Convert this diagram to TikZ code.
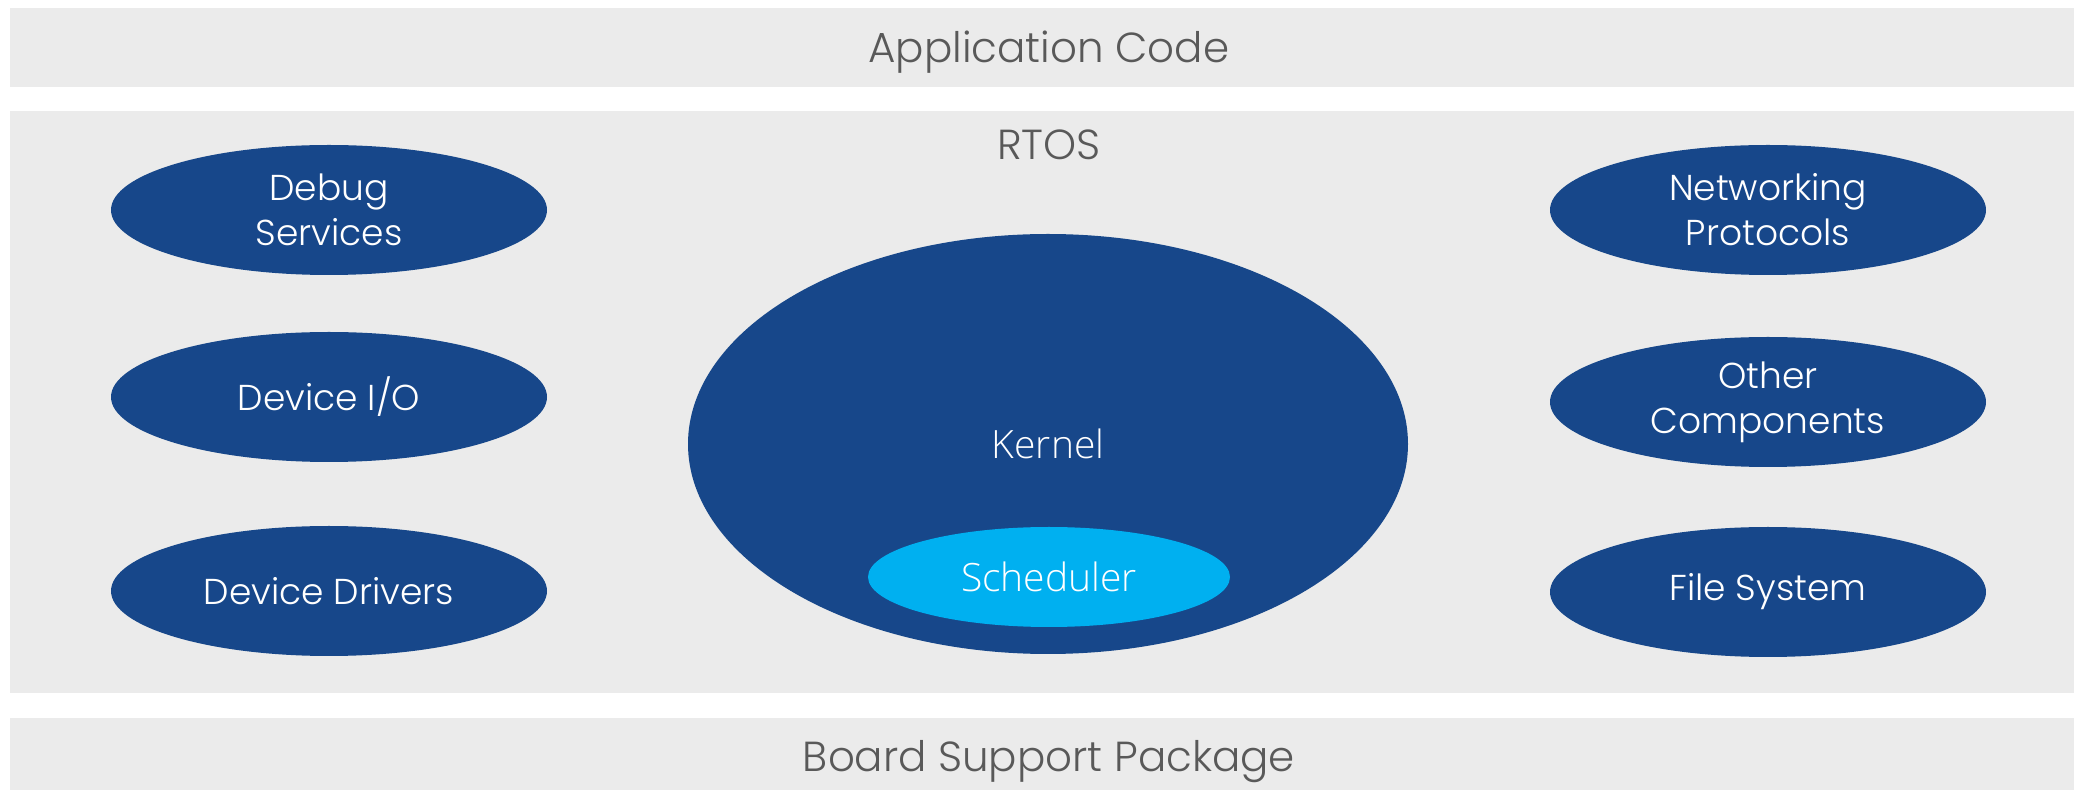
\documentclass[tikz,border=0pt]{standalone}
\usepackage{fontspec}
\setmainfont{Poppins}[UprightFont=* Light]
\newfontfamily\kernelfont{Open Sans}[UprightFont=* Light]
\usetikzlibrary{shapes.geometric}
\definecolor{bandgray}{HTML}{EBEBEB}
\definecolor{rtosblue}{HTML}{17478A}
\definecolor{schedblue}{HTML}{00B0F0}
\definecolor{labelgray}{HTML}{595959}

\begin{document}
\begin{tikzpicture}[x=0.5pt, y=-0.5pt,
    comp/.style={ellipse, fill=rtosblue, text=white, inner sep=0pt,
        minimum width=218pt, minimum height=65pt, align=center,
        font=\fontsize{18}{22.5}\selectfont},
    layerlabel/.style={text=labelgray, inner sep=0pt, font=\fontsize{21}{25}\selectfont}]
    \useasboundingbox (0,0) rectangle (2074,790);
    % Layers
    \fill[bandgray] (10,8) rectangle (2074,87);
    \fill[bandgray] (10,111) rectangle (2074,693);
    \fill[bandgray] (10,718) rectangle (2074,790);
    \node[layerlabel] (app) at (1049,52) {Application Code};
    \node[layerlabel] (rtos) at (1049,145) {RTOS};
    \node[layerlabel] (bsp) at (1049,762) {Board Support Package};
    % Kernel with scheduler
    \node[ellipse, fill=rtosblue, minimum width=360pt, minimum height=210pt] (kernel) at (1048,444) {};
    \node[text=white, font=\kernelfont\fontsize{19.5}{23}\selectfont] (kernellabel) at (kernel.center) {Kernel};
    \node[ellipse, fill=schedblue, text=white, inner sep=0pt, minimum width=181pt, minimum height=50pt,
        font=\kernelfont\fontsize{19.5}{23}\selectfont] (sched) at (1049,577) {Scheduler};
    % Left components
    \node[comp] (debug) at (329,210) {Debug\\Services};
    \node[comp] (devio) at (329,397) {Device I/O};
    \node[comp] (drivers) at (329,591) {Device Drivers};
    % Right components
    \node[comp] (net) at (1768,210) {Networking\\Protocols};
    \node[comp] (other) at (1768,402) {Other\\Components};
    \node[comp] (fs) at (1768,592) {File System};
\end{tikzpicture}
\end{document}
